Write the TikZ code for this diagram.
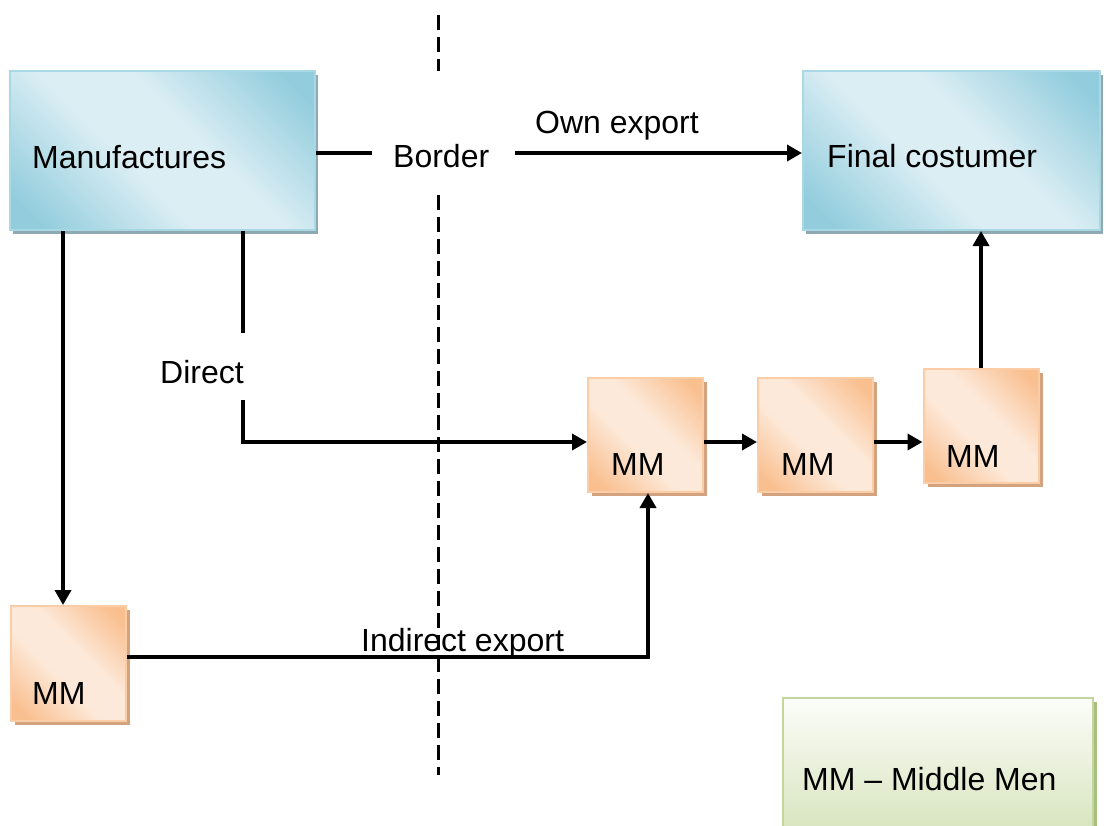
\documentclass[tikz,border=0pt]{standalone}
\usepackage{fontspec}
\setmainfont{Liberation Sans}
\usetikzlibrary{arrows.meta,shadows}

% palette
\definecolor{aquadark}{HTML}{93CDDD}
\definecolor{aqualight}{HTML}{DBEEF4}
\definecolor{aquaedge}{HTML}{A8D8E4}
\definecolor{aquashadow}{HTML}{8FA9B2}
\definecolor{peachdark}{HTML}{F9BF8F}
\definecolor{peachlight}{HTML}{FDE9D9}
\definecolor{peachedge}{HTML}{FBCDA6}
\definecolor{peachshadow}{HTML}{D3A37F}
\definecolor{sagetop}{HTML}{FCFDF9}
\definecolor{sagebottom}{HTML}{D7E4BD}
\definecolor{sageedge}{HTML}{C3D69B}
\definecolor{sageshadow}{HTML}{A9BF7F}

% diagonal band shadings: light along one diagonal, dark in the other two corners
\pgfdeclarehorizontalshading{aquaband}{100bp}{color(0bp)=(aquadark); color(20bp)=(aquadark); color(43bp)=(aqualight); color(57bp)=(aqualight); color(80bp)=(aquadark); color(100bp)=(aquadark)}
\pgfdeclarehorizontalshading{peachband}{100bp}{color(0bp)=(peachdark); color(20bp)=(peachdark); color(43bp)=(peachlight); color(57bp)=(peachlight); color(80bp)=(peachdark); color(100bp)=(peachdark)}

\begin{document}
\begin{tikzpicture}[x=1bp,y=-1bp,
  txt/.style={font=\fontsize{32bp}{38bp}\selectfont, inner sep=0pt, anchor=base west},
  aquabox/.style={rectangle, inner sep=0pt, draw=aquaedge, line width=2bp,
    shade, shading=aquaband, shading angle=45,
    drop shadow={shadow xshift=3bp, shadow yshift=-4bp, fill=aquashadow, opacity=1}},
  peachbox/.style={rectangle, inner sep=0pt, draw=peachedge, line width=2bp,
    shade, shading=peachband, shading angle=45,
    minimum width=115bp, minimum height=114bp,
    drop shadow={shadow xshift=4bp, shadow yshift=-4bp, fill=peachshadow, opacity=1}},
  legendbox/.style={rectangle, inner sep=0pt, draw=sageedge, line width=2bp,
    top color=sagetop, bottom color=sagebottom,
    drop shadow={shadow xshift=4bp, shadow yshift=-4bp, fill=sageshadow, opacity=1}},
  link/.style={line width=3.6bp},
  arrowlink/.style={link, -{Triangle[length=15bp,width=16bp]}},
  borderline/.style={line width=2.2bp, dash pattern=on 15bp off 7bp}
]
\useasboundingbox (0,0) rectangle (1106,826);
\clip (0,0) rectangle (1106,826);
\fill[white] (0,0) rectangle (1106,826);

% boxes
\node[aquabox, minimum width=305bp, minimum height=159bp] (manu) at (162.5,150.5) {};
\node[aquabox, minimum width=297bp, minimum height=159bp] (final) at (951.5,150.5) {};
\node[peachbox] (mm1) at (645.5,435) {};
\node[peachbox] (mm2) at (815.5,435) {};
\node[peachbox] (mm3) at (981,426) {};
\node[peachbox, minimum height=115bp] (mm4) at (68.5,663.5) {};
\node[legendbox, minimum width=310bp, minimum height=136bp] (legend) at (938,766) {};

% the border between the two countries
\coordinate (dashTop) at (438.5,15);
\coordinate (dashGapA) at (438.5,71);
\coordinate (dashGapB) at (438.5,195);
\coordinate (dashBottom) at (438.5,775);
\draw[borderline] (dashTop) -- (dashGapA);
\draw[borderline] (dashGapB) -- (dashBottom);

% own export
\coordinate (bl) at (372,153);
\coordinate (br) at (515,153);
\draw[link] (manu.east |- bl) -- (bl);
\draw[arrowlink] (br) -- (final.west |- br);

% manufacturer to local middle man
\coordinate (leftx) at (63,0);
\draw[arrowlink] (manu.south -| leftx) -- (mm4.north -| leftx);

% direct export
\coordinate (dx) at (243,0);
\coordinate (dgapA) at (243,333);
\coordinate (dgapB) at (243,400);
\coordinate (dcorner) at (243,442);
\draw[link] (manu.south -| dx) -- (dgapA);
\draw[arrowlink] (dgapB) -- (dcorner) -- (mm1.west |- dcorner);

% chain of middle men abroad
\coordinate (chainy) at (0,442);
\draw[arrowlink] (mm1.east |- chainy) -- (mm2.west |- chainy);
\draw[arrowlink] (mm2.east |- chainy) -- (mm3.west |- chainy);
\draw[arrowlink] (mm3.north) -- (final.south -| mm3.north);

% indirect export
\coordinate (ix) at (648,657);
\draw[arrowlink] (mm4.east |- ix) -- (ix) -- (mm1.south -| ix);

% texts
\node[txt] (manutxt) at (32,168) {Manufactures};
\node[txt] (finaltxt) at (827,167) {Final costumer};
\node[txt] (bordertxt) at (393,167) {Border};
\node[txt] (owntxt) at (535,133) {Own export};
\node[txt] (directtxt) at (160,383) {Direct};
\node[txt] (indtxt) at (361,651) {Indirect export};
\node[txt] (mm1txt) at (611,475) {MM};
\node[txt] (mm2txt) at (781,475) {MM};
\node[txt] (mm3txt) at (946,467) {MM};
\node[txt] (mm4txt) at (32,704) {MM};
\node[txt] (legendtxt) at (802,790) {MM – Middle Men};
\end{tikzpicture}
\end{document}
